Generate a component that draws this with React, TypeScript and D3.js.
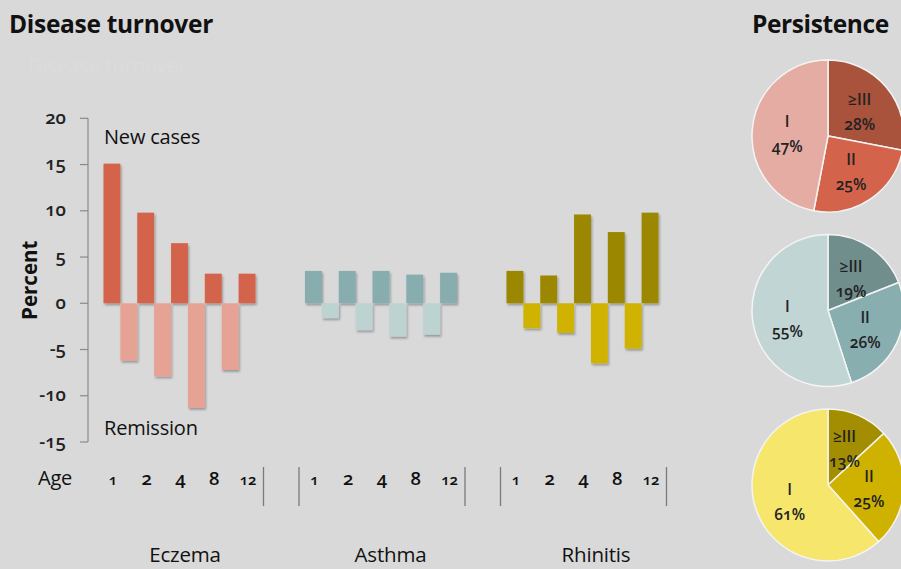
import React from "react";
import * as d3 from "d3";

const categories = ["Eczema", "Asthma", "Rhinitis"];
const ages = ["1", "2", "4", "8", "12"];
const eczemaNew = [15.1, 9.8, 6.5, 3.2, 3.2];
const eczemaRemission = [-6.2, -7.9, -11.3, -7.2];
const asthmaNew = [3.5, 3.5, 3.5, 3.1, 3.3];
const asthmaRemission = [-1.6, -2.9, -3.6, -3.4];
const rhinitisNew = [3.5, 3.0, 9.6, 7.7, 9.8];
const rhinitisRemission = [-2.7, -3.2, -6.5, -4.9];
const yTicks = [20, 15, 10, 5, 0, -5, -10, -15];
const persistLevels = ["≥III", "II", "I"];
const eczemaPersist = [28, 25, 47];
const asthmaPersist = [19, 26, 55];
const rhinitisPersist = [13, 25, 61];

const newSeries = [eczemaNew, asthmaNew, rhinitisNew];
const remSeries = [eczemaRemission, asthmaRemission, rhinitisRemission];
const persistSeries = [eczemaPersist, asthmaPersist, rhinitisPersist];
const newColors = ["#d3634b", "#88adae", "#9b8800"];
const remColors = ["#e5a295", "#bdd3d2", "#d0b300"];
const pieColors = [
  ["#a9523c", "#d4634b", "#e5aca4"],
  ["#6f8e8c", "#88aeb0", "#c1d5d5"],
  ["#a38d00", "#cfb200", "#f6e66c"],
];

const FONT = "'Open Sans', 'Noto Sans', sans-serif";
const ONUM: React.CSSProperties = { fontVariantNumeric: "oldstyle-nums" };

export default function App() {
  const W = 901, H = 569;
  const y = d3.scaleLinear().domain([-15, 20]).range([442, 118.3]);
  const gx = d3.scaleLinear().domain([0, 2]).range([103.5, 506.5]);
  const labelX = d3.scaleLinear().domain([0, 2]).range([185, 596]);
  const slot = d3.scaleBand<number>().domain(d3.range(9)).range([0, 152]).paddingInner(0);
  const axisX = 88, gridEnd = 657;

  const pie = d3.pie<number>().sort(null).value((d) => d);
  const R = 76;
  const arc = d3.arc<d3.PieArcDatum<number>>().innerRadius(0).outerRadius(R);
  const labelArc = d3.arc<d3.PieArcDatum<number>>().innerRadius(R * 0.54).outerRadius(R * 0.54);
  const pieCy = d3.scaleLinear().domain([0, 2]).range([136, 485]);

  return (
    <svg width={W} height={H} style={{ position: "fixed", left: 0, top: 0, background: "#d9d9d9" }} fontFamily={FONT}>
      <defs>
        <filter id="sh" x="-30%" y="-30%" width="160%" height="160%">
          <feDropShadow dx="1.2" dy="2" stdDeviation="1.3" floodColor="#000" floodOpacity="0.3" />
        </filter>
        <filter id="gsh" x="-5%" y="-200%" width="110%" height="500%">
          <feDropShadow dx="0" dy="1" stdDeviation="0.6" floodColor="#000" floodOpacity="0.12" />
        </filter>
      </defs>
      <rect width={W} height={H} fill="#d9d9d9" />
      <text x={9} y={33} fontSize={24.5} fontWeight={700} fill="#111" letterSpacing={-0.3}>Disease turnover</text>
      <text x={28} y={73} fontSize={20} fill="#dcdcdc">Disease turnover</text>
      <text x={752} y={33} fontSize={24.5} fontWeight={700} fill="#111" letterSpacing={-0.4}>Persistence</text>

      {/* gridlines */}
      {yTicks.map((t) => (
        <line key={"g" + t} x1={axisX} x2={gridEnd} y1={y(t)} y2={y(t)} stroke="#fafafa" strokeWidth={2} filter="url(#gsh)" />
      ))}
      {/* axis */}
      <line x1={axisX} x2={axisX} y1={y(20)} y2={y(-15)} stroke="#8a8a8a" strokeWidth={1.2} />
      {yTicks.map((t) => (
        <g key={"t" + t}>
          <line x1={80} x2={axisX} y1={y(t)} y2={y(t)} stroke="#8a8a8a" strokeWidth={1.2} />
          <text x={66} y={y(t)} dy="0.3em" textAnchor="end" fontSize={18.5} fontWeight={600} fill="#222" style={ONUM}>{t}</text>
        </g>
      ))}
      <text transform={`translate(37,${y(0) - 23}) rotate(-90)`} textAnchor="middle" fontSize={20.5} fontWeight={700} fill="#111">Percent</text>
      <text x={104} y={144} fontSize={20} fill="#111" letterSpacing={-0.2}>New cases</text>
      <text x={104} y={435} fontSize={20} fill="#111" letterSpacing={-0.2}>Remission</text>

      {/* bars */}
      {categories.map((c, ci) => (
        <g key={c} filter="url(#sh)">
          {newSeries[ci].map((v, i) => (
            <rect key={"n" + i} x={gx(ci) + (slot(2 * i) as number)} width={slot.bandwidth()} y={y(v)} height={y(0) - y(v)} fill={newColors[ci]} />
          ))}
          {remSeries[ci].map((v, i) => (
            <rect key={"r" + i} x={gx(ci) + (slot(2 * i + 1) as number)} width={slot.bandwidth()} y={y(0)} height={y(v) - y(0)} fill={remColors[ci]} />
          ))}
        </g>
      ))}

      {/* age row */}
      <text x={38} y={485} fontSize={20} fill="#111" letterSpacing={-0.2}>Age</text>
      {categories.map((c, ci) => (
        <g key={"a" + c}>
          {ages.map((a, i) => (
            <text key={a} x={gx(ci) + (slot(2 * i) as number) + slot.bandwidth() / 2 + 1} y={485} textAnchor="middle"
              fontSize={a === "1" || a === "12" ? 15 : 18.5} fontWeight={600} fill="#111" style={ONUM}>{a}</text>
          ))}
          {ci > 0 && <line x1={gx(ci) - 6} x2={gx(ci) - 6} y1={467} y2={506} stroke="#7a7a7a" strokeWidth={1.3} />}
          <line x1={gx(ci) + 160} x2={gx(ci) + 160} y1={467} y2={506} stroke="#7a7a7a" strokeWidth={1.3} />
          <text x={labelX(ci)} y={562} textAnchor="middle" fontSize={20.5} fill="#111" letterSpacing={-0.2}>{c}</text>
        </g>
      ))}

      {/* pies */}
      {persistSeries.map((vals, pi) => {
        const arcs = pie(vals);
        return (
          <g key={"p" + pi} transform={`translate(828,${pieCy(pi)})`}>
            {arcs.map((a, k) => (
              <path key={k} d={arc(a) || ""} fill={pieColors[pi][k]} stroke="#f4f4f4" strokeWidth={1.5} />
            ))}
            {arcs.map((a, k) => {
              const [cx, cy] = labelArc.centroid(a);
              return (
                <g key={"l" + k}>
                  <text x={cx} y={cy - 5} textAnchor="middle" fontSize={15.5} fontWeight={600} fill="#222">{persistLevels[k]}</text>
                  <text x={cx} y={cy + 20} textAnchor="middle" fontSize={15.5} fontWeight={600} fill="#222" style={ONUM}>{vals[k]}%</text>
                </g>
              );
            })}
          </g>
        );
      })}
    </svg>
  );
}
